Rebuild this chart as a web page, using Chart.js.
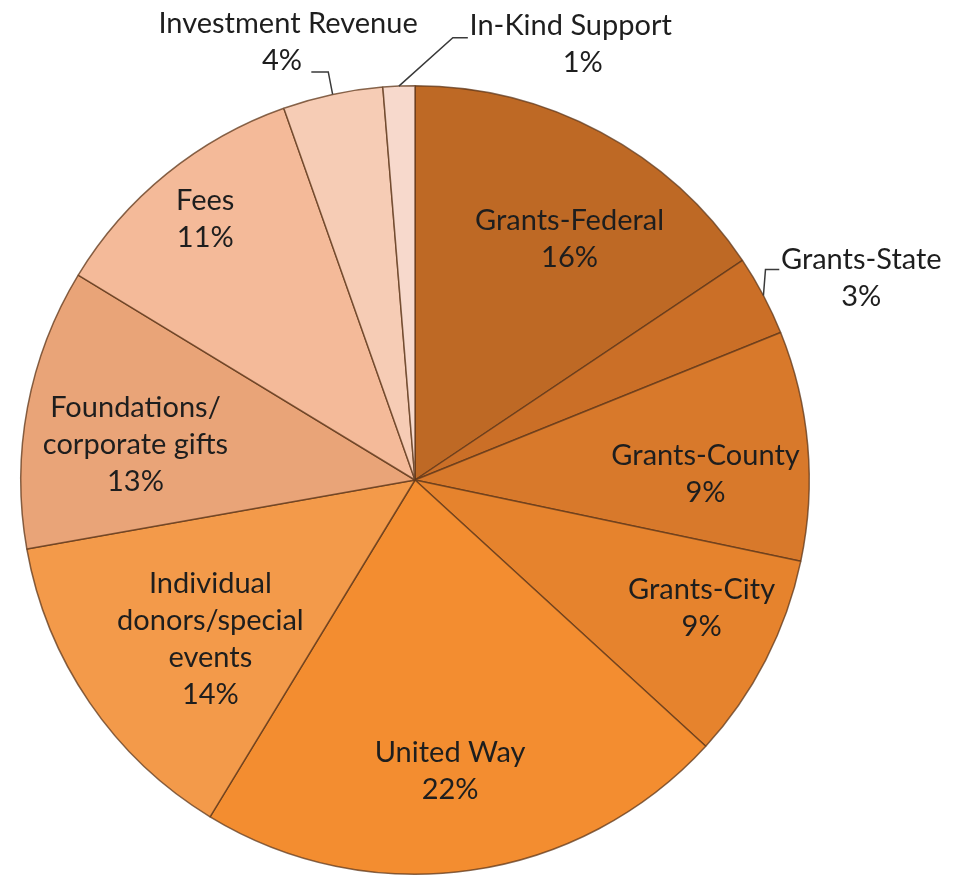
<!DOCTYPE html>
<html><head><meta charset="utf-8">
<script src="https://cdn.jsdelivr.net/npm/chart.js@4/dist/chart.umd.min.js"></script>
<style>html,body{margin:0;padding:0;background:#fff;overflow:hidden}</style>
</head><body>
<canvas id="c" width="955" height="881" style="width:955px;height:881px;display:block"></canvas>
<script>
// ---- data ----
const categories = ["Grants-Federal","Grants-State","Grants-County","Grants-City","United Way",
  "Individual donors/special events","Foundations/ corporate gifts","Fees","Investment Revenue","In-Kind Support"];
const shares = [15.6, 3.3, 9.4, 8.5, 21.9, 13.5, 11.5, 10.9, 4.1, 1.3];
const pctLabels = ["16%","3%","9%","9%","22%","14%","13%","11%","4%","1%"];
const labelLines = [["Grants-Federal"],["Grants-State"],["Grants-County"],["Grants-City"],["United Way"],
  ["Individual","donors/special","events"],["Foundations/","corporate gifts"],["Fees"],["Investment Revenue"],["In-Kind Support"]];
const sliceColors = ["#BE6925","#CB6F27","#D8792B","#E6832D","#F38D30","#F39A4A","#E9A478","#F4BA99","#F6CCB5","#F7D9CC"];

// label block centres relative to pie centre, in units of radius
const labelPos = [[0.392,-0.610],[1.132,-0.511],[0.737,-0.015],[0.727,0.324],[0.089,0.739],
  [-0.519,0.403],[-0.709,-0.089],[-0.532,-0.661],[-0.322,-1.111],[0.395,-1.106]];
// horizontal nudge (px) of the percent line relative to the name line
const pctNudge = [0,0,0,0,0,0,0,0,-6,12];
// leader lines: elbow and end, relative units
const leaders = {1:[[0.889,-0.534],[0.924,-0.534]], 8:[[-0.220,-1.035],[-0.263,-1.035]], 9:[[0.096,-1.122],[0.134,-1.122]]};

const FONT = '29px Lato';
const LINE_H = 37;

const labelPlugin = {
  id:'pieLabels',
  afterDatasetsDraw(chart){
    const ctx = chart.ctx;
    const meta = chart.getDatasetMeta(0);
    ctx.save();
    meta.data.forEach((arc,i)=>{
      const cx = arc.x, cy = arc.y, r = arc.outerRadius;
      if (leaders[i]) {
        const mid = (arc.startAngle + arc.endAngle)/2;
        ctx.strokeStyle = '#3a3a3a';
        ctx.lineWidth = 1.5;
        ctx.beginPath();
        ctx.moveTo(cx + r*Math.cos(mid), cy + r*Math.sin(mid));
        const [e, t] = leaders[i];
        ctx.lineTo(cx + e[0]*r, cy + e[1]*r);
        ctx.lineTo(cx + t[0]*r, cy + t[1]*r);
        ctx.stroke();
      }
      const lines = labelLines[i].concat([pctLabels[i]]);
      const px = cx + labelPos[i][0]*r, py = cy + labelPos[i][1]*r;
      ctx.font = FONT;
      ctx.fillStyle = '#1e1e1e';
      ctx.textAlign = 'center';
      ctx.textBaseline = 'middle';
      const top = py - (lines.length-1)*LINE_H/2;
      lines.forEach((s,k)=> {
        const nx = (k === lines.length-1) ? pctNudge[i] : 0;
        ctx.fillText(s, px + nx, top + k*LINE_H);
      });
    });
    ctx.restore();
  }
};

new Chart(document.getElementById('c'), {
  type:'pie',
  data:{ labels: categories, datasets:[{ data: shares, backgroundColor: sliceColors,
    borderColor:'rgba(95,55,25,0.75)', borderWidth:1.5 }]},
  options:{
    responsive:false, animation:false, devicePixelRatio:1,
    layout:{ padding:{ left:20, right:145, top:85, bottom:6 } },
    plugins:{ legend:{display:false}, tooltip:{enabled:false} }
  },
  plugins:[labelPlugin]
});
</script>
</body></html>
